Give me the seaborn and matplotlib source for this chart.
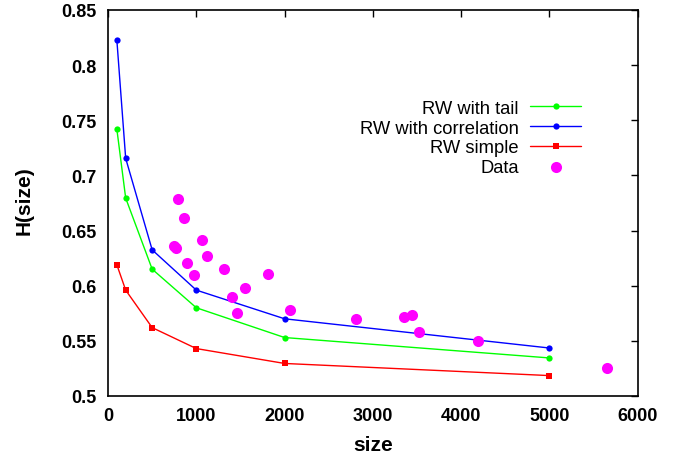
import pandas as pd
import matplotlib
matplotlib.use("Agg")
import matplotlib.pyplot as plt
import seaborn as sns

# valores
sizes_model = [100, 200, 500, 1000, 2000, 5000]
h_tail = [0.742, 0.6795, 0.615, 0.580, 0.553, 0.5345]
h_corr = [0.8228, 0.7155, 0.6325, 0.596, 0.570, 0.5435]
h_simple = [0.619, 0.596, 0.562, 0.543, 0.5295, 0.5185]

data_size = [792, 863, 743, 773, 1063, 1124, 894, 973, 1308, 1814,
             1554, 1399, 1459, 2066, 2813, 3352, 3439, 3522, 4189, 5648]
data_h = [0.6786, 0.6617, 0.6357, 0.6345, 0.641, 0.6266, 0.621, 0.610, 0.615, 0.611,
          0.598, 0.590, 0.575, 0.578, 0.570, 0.572, 0.5734, 0.558, 0.550, 0.525]

y_ticks = [0.5, 0.55, 0.6, 0.65, 0.7, 0.75, 0.8, 0.85]
y_labels = ['0.5', '0.55', '0.6', '0.65', '0.7', '0.75', '0.8', '0.85']

sns.set_style("white")
plt.rcParams['font.family'] = ['Liberation Sans', 'DejaVu Sans']

fig = plt.figure(figsize=(6.88, 4.56), dpi=100)
ax = fig.add_axes([0.157, 0.1294, 0.770, 0.8465])

df_tail = pd.DataFrame({'size': sizes_model, 'H': h_tail})
df_corr = pd.DataFrame({'size': sizes_model, 'H': h_corr})
df_simple = pd.DataFrame({'size': sizes_model, 'H': h_simple})
df_data = pd.DataFrame({'size': data_size, 'H': data_h})

sns.lineplot(data=df_tail, x='size', y='H', ax=ax, color='#00ff00', marker='o',
             markersize=4.5, markeredgewidth=0, linewidth=1, label='RW with tail')
sns.lineplot(data=df_corr, x='size', y='H', ax=ax, color='#0000ff', marker='o',
             markersize=4.5, markeredgewidth=0, linewidth=1, label='RW with correlation')
sns.lineplot(data=df_simple, x='size', y='H', ax=ax, color='#ff0000', marker='s',
             markersize=5, markeredgewidth=0, linewidth=1, label='RW simple')
sns.scatterplot(data=df_data, x='size', y='H', ax=ax, color='#ff00ff', s=64,
                linewidth=0, label='Data', zorder=3)

ax.set_xlim(0, 6000)
ax.set_ylim(0.5, 0.85)
ax.set_xticks(range(0, 6001, 1000))
ax.set_yticks(y_ticks)
ax.set_yticklabels(y_labels)
ax.tick_params(direction='in', length=5, width=1, top=True, right=True,
               labelsize=13, color='black', labelcolor='black', pad=8)
for lab in ax.get_xticklabels() + ax.get_yticklabels():
    lab.set_fontweight('bold')
for s in ax.spines.values():
    s.set_color('black')
    s.set_linewidth(1.2)

ax.set_xlabel('size', fontsize=15, fontweight='bold', labelpad=8, color='black')
ax.set_ylabel('H(size)', fontsize=15, fontweight='bold', color='black')
ax.yaxis.set_label_coords(-0.14, 0.51)

leg = ax.legend(loc='upper right', bbox_to_anchor=(0.925, 0.81), frameon=False,
                markerfirst=False, fontsize=13.25, handlelength=2.8,
                labelspacing=0.15, handletextpad=0.6)
for t in leg.get_texts():
    t.set_ha('right')
    t.set_color('black')
leg._legend_box.align = 'right'

fig.savefig('out.png', dpi=100)
